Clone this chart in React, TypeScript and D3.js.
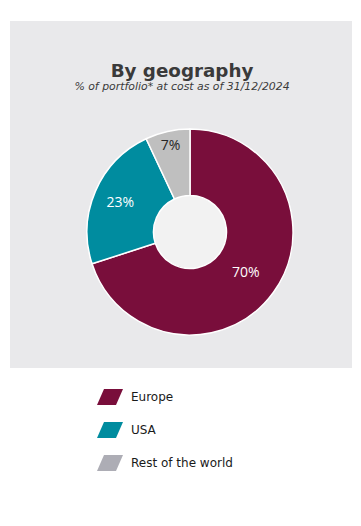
import * as d3 from 'd3';
import React from 'react';

const regions = ['Europe', 'USA', 'Rest of the world'];
const shares = [70, 23, 7];
const sliceColors = ['#790e3b', '#008c9f', '#bfbfbf'];
const swatchColors = ['#790e3b', '#008c9f', '#adadb5'];
const labelColors = ['#ffffff', '#ffffff', '#262626'];
// distance from the centre where each label sits
const labelRadius = [69, 76, 89];

const W = 361;
const H = 526;
const cx = 190;
const cy = 232;
const outerR = 103;
const innerR = 36.5;

const App = () => {
    const pie = d3.pie<number>().sort(null).value(d => d);
    const arcs = pie(shares);
    const arc = d3.arc<d3.PieArcDatum<number>>().innerRadius(innerR).outerRadius(outerR);

    const labelPos = (a: d3.PieArcDatum<number>, r: number) => {
        const mid = (a.startAngle + a.endAngle) / 2;
        return [Math.sin(mid) * r, -Math.cos(mid) * r];
    };

    const legendY = d3.scalePoint<string>().domain(regions).range([397, 463]);

    return (
        <svg width={W} height={H} style={{ position: 'absolute', left: 0, top: 0 }}>
            <rect x={0} y={0} width={W} height={H} fill="#ffffff" />
            <rect x={10} y={21} width={342} height={347} fill="#e9e9eb" />

            <text x={182} y={77} textAnchor="middle" fontFamily="DejaVu Sans, Verdana, sans-serif"
                fontWeight="bold" fontSize={18.3} fill="#3a3a3a">By geography</text>
            <text x={182} y={90} textAnchor="middle" fontFamily="DejaVu Sans, Verdana, sans-serif"
                fontStyle="italic" fontSize={10.9} fill="#3a3a3a">% of portfolio* at cost as of 31/12/2024</text>

            <g transform={`translate(${cx},${cy})`}>
                <circle r={innerR} fill="#f2f2f2" />
                {arcs.map((a, i) => (
                    <path key={regions[i]} d={arc(a) || ''} fill={sliceColors[i]}
                        stroke="#ffffff" strokeWidth={1.5} strokeLinejoin="round" />
                ))}
                {arcs.map((a, i) => {
                    const [x, y] = labelPos(a, labelRadius[i]);
                    return (
                        <text key={'l' + i} x={x} y={y} dy="0.35em" textAnchor="middle"
                            fontFamily="Open Sans, sans-serif" fontSize={14} fill={labelColors[i]}>
                            {shares[i]}%
                        </text>
                    );
                })}
            </g>

            {regions.map((r, i) => {
                const y = legendY(r) as number;
                return (
                    <g key={r} transform={`translate(0,${y})`}>
                        <polygon points="97,8 104,-8 123,-8 116,8" fill={swatchColors[i]} />
                        <text x={131} y={0} dy="0.35em" fontFamily="DejaVu Sans, Verdana, sans-serif"
                            fontSize={12} fill="#1a1a1a">{r}</text>
                    </g>
                );
            })}
        </svg>
    );
};

export default App;
